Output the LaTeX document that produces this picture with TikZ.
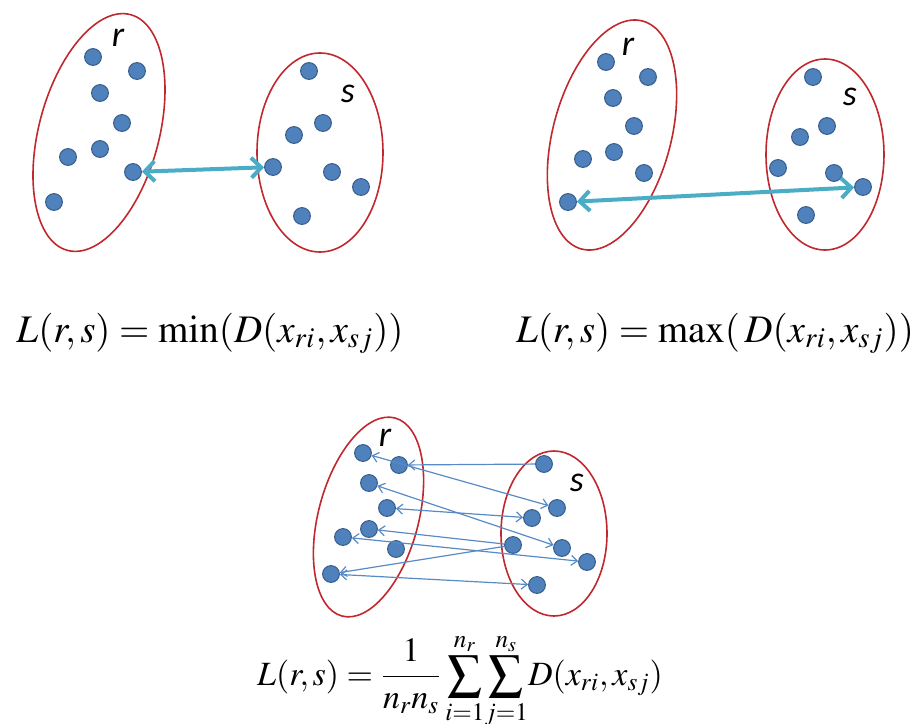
\documentclass[tikz,border=0pt]{standalone}
\usepackage{amsmath}
\usepackage{mathptmx}
\usepackage[no-math]{fontspec}
\newfontfamily\lblfont{Carlito}
\usetikzlibrary{arrows.meta}
\definecolor{dotblue}{RGB}{79,129,189}
\definecolor{dotedge}{RGB}{56,93,138}
\definecolor{setred}{RGB}{192,40,45}
\definecolor{linkteal}{RGB}{75,172,198}
\definecolor{linkblue}{RGB}{88,138,198}

\begin{document}
\begin{tikzpicture}[x=0.5pt,y=-0.5pt,
  dot/.style={circle,fill=dotblue,draw=dotedge,line width=0.5pt,minimum size=8.4pt,inner sep=0pt},
  cluster/.style={draw=setred,line width=0.8pt},
  span/.style={linkteal,line width=2pt,{Straight Barb[length=5pt,width=10pt]}-{Straight Barb[length=5pt,width=10pt]}},
  pairlink/.style={linkblue,line width=0.6pt},
  tag/.style={font=\lblfont\itshape\fontsize{18}{20}\selectfont},
  eq/.style={anchor=base,font=\fontsize{19.5}{23}\selectfont},
  >={Straight Barb[length=3pt,width=5pt]}]
\useasboundingbox (0,0) rectangle (912,724);

\draw[cluster,rotate around={-15:(99,132.5)}] (99,132.5) ellipse [x radius=60,y radius=122];
\draw[cluster] (320,152.5) ellipse [x radius=63,y radius=99.5];
\draw[cluster,rotate around={-15:(612,135)}] (612,135) ellipse [x radius=59,y radius=118];
\draw[cluster] (825,154.5) ellipse [x radius=59,y radius=95.5];
\draw[cluster,rotate around={-15:(368.5,517)}] (368.5,517) ellipse [x radius=50,y radius=102.5];
\draw[cluster] (554,533.5) ellipse [x radius=53,y radius=82.5];

\foreach \n/\x/\y in {1/93/57,2/137/71,3/100/93,4/122/123,5/100/149,6/68/157,7/133/172,8/54/202}
  \node[dot] (minr\n) at (\x,\y) {};
\foreach \n/\x/\y in {1/309/71,2/323/123,3/294/135,4/273/167,5/332/172,6/361/187,7/302/216}
  \node[dot] (mins\n) at (\x,\y) {};
\foreach \n/\x/\y in {1/606/62,2/648/77,3/613/98,4/634/126,5/614/152,6/583/159,7/644/173,8/568/202}
  \node[dot] (maxr\n) at (\x,\y) {};
\foreach \n/\x/\y in {1/813/77,2/827/126,3/800/137,4/778/168,5/834/173,6/863/187,7/806/215}
  \node[dot] (maxs\n) at (\x,\y) {};
\foreach \n/\x/\y in {1/363/453,2/399/465,3/369/483,4/387/508,5/369/529,6/343/537,7/396/549,8/331/574}
  \node[dot] (avgr\n) at (\x,\y) {};
\foreach \n/\x/\y in {1/544/464,2/557/508,3/532/518,4/513/545,5/562/548,6/587/562,7/537/585}
  \node[dot] (avgs\n) at (\x,\y) {};

\node[tag] (minrtag) at (118,38) {r};
\node[tag] (minstag) at (348,94) {s};
\node[tag] (maxrtag) at (628,47) {r};
\node[tag] (maxstag) at (850,97) {s};
\node[tag] (avgrtag) at (385,438) {r};
\node[tag] (avgstag) at (577,483) {s};

\draw[span] (minr7) -- (mins4);
\draw[span] (maxr8) -- (maxs6);

\draw[pairlink,->] (avgs1) -- (avgr2);
\draw[pairlink,<->] (avgr1) -- (avgs2);
\draw[pairlink,<->] (avgr3) -- (avgs5);
\draw[pairlink,<->] (avgr4) -- (avgs3);
\draw[pairlink,->] (avgs4) -- (avgr5);
\draw[pairlink,<->] (avgr6) -- (avgs6);
\draw[pairlink,->] (avgs4) -- (avgr8);
\draw[pairlink,<->] (avgr8) -- (avgs7);

\node[eq] (mineq) at (210,342) {$L(r,s)=\min(D(x_{ri},x_{sj}))$};
\node[eq] (maxeq) at (715,342) {$L(r,s)=\max(\,D(x_{ri},x_{sj}))$};
\node[eq,font=\fontsize{17}{20}\selectfont] (avgeq) at (460,685) {$\displaystyle L(r,s)=\frac{1}{n_r n_s}\sum_{i=1}^{n_r}\!\sum_{j=1}^{n_s}\!D(x_{ri},x_{sj})$};
\end{tikzpicture}
\end{document}
